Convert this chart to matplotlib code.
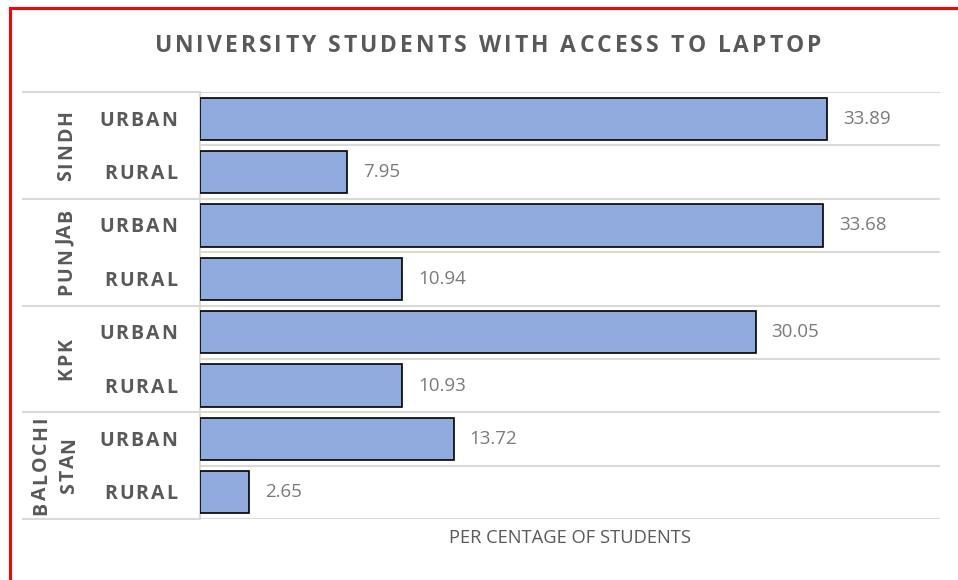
import numpy as np
import matplotlib
matplotlib.use("Agg")
import matplotlib.pyplot as plt
from matplotlib.font_manager import FontProperties
from matplotlib.transforms import offset_copy, blended_transform_factory
from matplotlib.lines import Line2D

# data, top to bottom
provinces = ["SINDH", "PUNJAB", "KPK", "BALOCHI\nSTAN"]
areas = ["URBAN", "RURAL"]
values = [33.89, 7.95, 33.68, 10.94, 30.05, 10.93, 13.72, 2.65]

title = "UNIVERSITY STUDENTS WITH ACCESS TO LAPTOP"
xlabel = "PER CENTAGE OF STUDENTS"

W, H = 958, 580
fig = plt.figure(figsize=(W / 100, H / 100), dpi=100)
ax = fig.add_axes([200 / W, 1 - 519 / H, 740 / W, 427 / H])

bar_color = "#8faadc"
grid_color = "#d9d9d9"
text_color = "#595959"

y = np.arange(len(values))
ax.barh(y, values, height=0.79, color=bar_color, edgecolor="black", linewidth=1.2, zorder=3)
for yi, v in zip(y, values):
    ax.text(v + 0.85, yi, f"{v:.2f}", va="center", ha="left", fontsize=13.5,
            color="#7a7a7a", family="Open Sans")

ax.set_xlim(0, 40)
ax.set_ylim(len(values) - 0.5, -0.5)
ax.set_xticks([])
ax.set_yticks([])
for s in ["top", "right", "bottom"]:
    ax.spines[s].set_visible(False)
ax.spines["left"].set_color(grid_color)
ax.spines["left"].set_linewidth(1.5)

# row separators inside the plot, group separators run into the label column
for b in np.arange(-0.5, len(values), 1.0):
    ax.axhline(b, color=grid_color, lw=1.5, zorder=1)
    if (b + 0.5) % 2 == 0:
        ax.plot([(23 - 200) / 740, 0], [b, b], transform=blended_transform_factory(ax.transAxes, ax.transData),
                color=grid_color, lw=1.5, clip_on=False)

ax.set_xlabel(xlabel, fontsize=13.2, color=text_color, family="Open Sans", labelpad=7)

renderer = fig.canvas.get_renderer()


def char_widths(s, fp):
    return [renderer.get_text_width_height_descent(c, fp, ismath=False)[0] for c in s]


def gap_for(s, size, width):
    fp = FontProperties(family="Open Sans", weight="bold", size=size)
    return (width - sum(char_widths(s, fp))) / (len(s) - 1)


def spaced_text(x, y, s, transform, size, gap, rotation=0, ha="center"):
    fp = FontProperties(family="Open Sans", weight="bold", size=size)
    widths = char_widths(s, fp)
    cap = renderer.get_text_width_height_descent("H", fp, ismath=False)[1]
    total = sum(widths) + gap * (len(s) - 1)
    pos = {"center": -total / 2, "right": -total, "left": 0}[ha]
    a = np.deg2rad(rotation)
    for c, w in zip(s, widths):
        mid = pos + w / 2
        dx = mid * np.cos(a) + cap / 2 * np.sin(a)
        dy = mid * np.sin(a) - cap / 2 * np.cos(a)
        tr = offset_copy(transform, fig=fig, x=dx, y=dy, units="dots")
        fig.text(x, y, c, transform=tr, fontproperties=fp, color=text_color,
                 rotation=rotation, rotation_mode="anchor", ha="center", va="baseline")
        pos += w + gap


title_size, label_size = 16.5, 14
spaced_text(488 / W, 1 - 44 / H, title, fig.transFigure, title_size, gap_for(title, title_size, 667))

label_gap = gap_for("URBAN", label_size, 78)
lab_tr = blended_transform_factory(fig.transFigure, ax.transData)
for i, v in enumerate(values):
    spaced_text(177 / W, i, areas[i % 2], lab_tr, label_size, label_gap, ha="right")

for g, name in enumerate(provinces):
    yc = 2 * g + 0.5
    lines = name.split("\n")
    if len(lines) == 1:
        spaced_text(64 / W, yc, name, lab_tr, label_size, label_gap, rotation=90)
    else:
        spaced_text(39 / W, yc, lines[0], lab_tr, label_size, label_gap, rotation=90)
        spaced_text(67 / W, yc, lines[1], lab_tr, label_size, label_gap, rotation=90)

# red frame along the top and left edges
fig.add_artist(Line2D([9.5 / W, 9.5 / W], [0, 1 - 7.5 / H], color="red", lw=2.2))
fig.add_artist(Line2D([9.5 / W, 1], [1 - 7.5 / H, 1 - 7.5 / H], color="red", lw=2.2))

fig.savefig("out.png", dpi=100)
